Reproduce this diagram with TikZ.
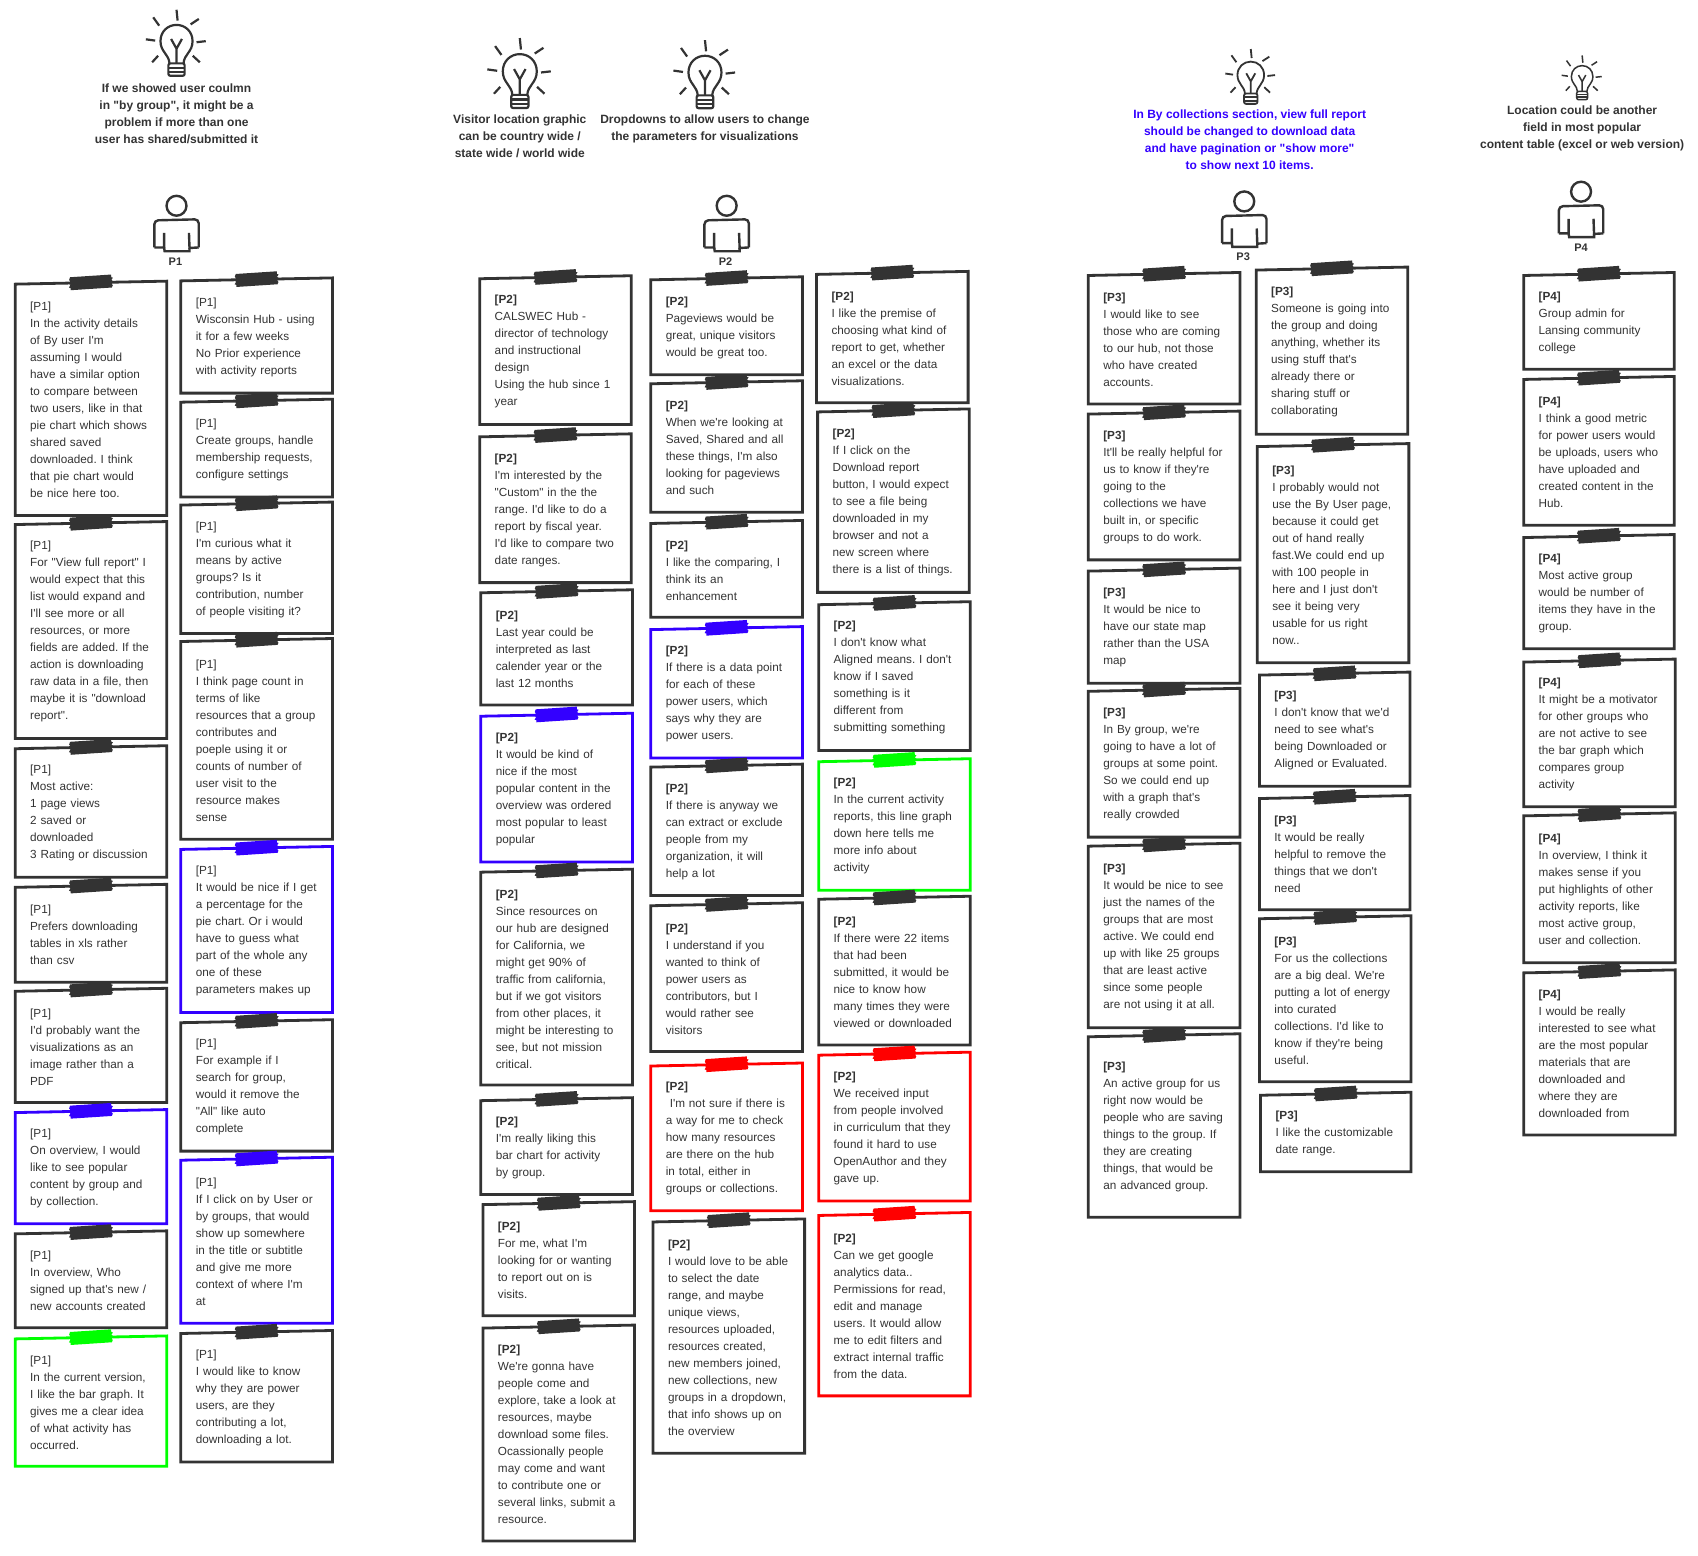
\documentclass[tikz,border=0pt]{standalone}
\usepackage{fontspec}
\usepackage{xcolor}
\usepackage{tikz}
\newfontfamily\notefont{Liberation Sans}
\definecolor{notedark}{HTML}{333333}
\definecolor{noteblue}{HTML}{3300FF}
\definecolor{notegreen}{HTML}{00FF00}
\definecolor{notered}{HTML}{FF0000}
\tikzset{
    notebox/.style={anchor=north west, align=left, inner xsep=14pt, inner ysep=0pt, outer sep=0pt, text=notedark,
        font=\notefont\frenchspacing\fontsize{11.75}{17}\selectfont},
    ideatext/.style={align=center, inner sep=0pt, text=notedark, font=\notefont\frenchspacing\bfseries\fontsize{12}{17}\selectfont},
    usertext/.style={inner sep=0pt, text=notedark, font=\notefont\bfseries\fontsize{11}{13}\selectfont},
    tape/.pic={
        \fill (-19,-6) -- (19,-6.5) -- (19,-4) -- (20.5,-3.5) -- (19,-1.5) -- (20.5,0) -- (19,2) -- (20,3.5) -- (19,5.5)
            -- (-19,6) -- (-19,4) -- (-20.5,3.5) -- (-19,1) -- (-20.5,0) -- (-19,-2) -- (-20,-3.5) -- cycle;
    },
    bulb/.pic={
        \draw[line cap=round] (-6.5,18.5) .. controls (-7,10) and (-14.8,8) .. (-14.8,-2) .. controls (-14.8,-11) and (-8,-17) .. (0,-17)
            .. controls (8,-17) and (14.8,-11) .. (14.8,-2) .. controls (14.8,8) and (7,10) .. (6.5,18.5);
        \draw (0,18.5) -- (0,5) -- (-5,-4) (0,5) -- (5,-4);
        \draw[rounded corners=2] (-7.5,18.5) rectangle (7.5,30);
        \draw (-7.5,22.5) -- (7.5,22.5) (-7.5,26.5) -- (7.5,26.5);
        \foreach \xa/\ya/\xb/\yb in {0/-31/1/-21, 20.6/-22.5/13/-17.5, 27/-2/18.5/-1, 21.5/17.5/15/11.5,
            -22.5/17.5/-17/11.5, -28.3/-3.7/-19.7/-2.5, -21.5/-24/-16/-16.3}
            \draw (\xa,\ya) -- (\xb,\yb);
    },
    person/.pic={
        \draw (0,0) circle (9.2);
        \draw[rounded corners=4] (-20.5,38.5) -- (-20.5,13.5) -- (20.5,12.5) -- (20.5,38.5);
        \draw (-11.5,25) -- (-11.5,38.5) -- (-20.5,38.5) (20.5,38.5) -- (12,39) -- (11.5,25);
        \draw (-11.5,38.5) -- (-11,42) -- (12,42) -- (12,39);
    }
}
% colour, name, left, top, right, bottom, text
\newcommand{\stickynote}[7][notedark]{%
    \pgfmathsetlengthmacro{\notew}{(#5-#3)*1.083pt}%
    \pgfmathsetlengthmacro{\noteh}{(#6-#4)*1.083pt}%
    \pgfmathsetlengthmacro{\notet}{\notew-28pt}%
    \node[notebox, minimum width=\notew, minimum height=\noteh, text width=\notet, xshift=1pt, yshift=-1pt] (#2) at (#3,#4) {#7};
    \draw[#1, line width=2.8pt] ([xshift=-1pt,yshift=-.5pt]#2.north west) -- ([xshift=-1pt,yshift=2.5pt]#2.north east)
        -- ([xshift=-1pt,yshift=1pt]#2.south east) -- ([xshift=-1pt,yshift=1pt]#2.south west) -- cycle;
    \path ([xshift=-1pt,yshift=1pt]#2.north) pic[rotate=3, color=#1] {tape};
}
\begin{document}
\begin{tikzpicture}[x=1.083pt, y=-1.083pt]
    \useasboundingbox (0,0) rectangle (1568,1436);

    % ideas
    \path (163,40) pic[notedark, line width=2.2pt] {bulb};
    \path (480,68) pic[notedark, line width=2.2pt, scale=1.06] {bulb};
    \path (651,69) pic[notedark, line width=2.2pt, scale=1.03] {bulb};
    \path (1155,71) pic[notedark, line width=1.8pt, scale=.83] {bulb};
    \path (1461,72) pic[notedark, line width=1.5pt, scale=.67] {bulb};
    \node[ideatext] (idea1) at (163,105) {If we showed user coulmn\\in "by group", it might be a\\problem if more than one\\user has shared/submitted it};
    \node[ideatext] (idea2) at (480,125.6) {Visitor location graphic\\can be country wide /\\state wide / world wide};
    \node[ideatext] (idea3) at (651,119) {Dropdowns to allow users to change\\the parameters for visualizations};
    \node[ideatext, text=noteblue] (idea4) at (1154,129) {In By collections section, view full report\\should be changed to download data\\and have pagination or "show more"\\to show next 10 items.};
    \node[ideatext] (idea5) at (1461,119) {Location could be another\\field in most popular\\content table (excel or web version)};

    % users
    \path (163,190) pic[notedark, line width=2.4pt] {person};
    \path (671,190) pic[notedark, line width=2.4pt] {person};
    \path (1149,186) pic[notedark, line width=2.4pt] {person};
    \path (1460,177) pic[notedark, line width=2.4pt] {person};
    \node[usertext] (user1) at (162,242) {P1};
    \node[usertext] (user2) at (670,242) {P2};
    \node[usertext] (user3) at (1148,237) {P3};
    \node[usertext] (user4) at (1460,229) {P4};

    % P1
    \stickynote{pa1}{14}{261}{154}{476}{[P1]\\In the activity details\\of By user I'm\\assuming I would\\have a similar option\\to compare between\\two users, like in that\\pie chart which shows\\shared saved\\downloaded. I think\\that pie chart would\\be nice here too.}
    \stickynote{pa2}{14}{483}{154}{682}{[P1]\\For "View full report" I\\would expect that this\\list would expand and\\I'll see more or all\\resources, or more\\fields are added. If the\\action is downloading\\raw data in a file, then\\maybe it is "download\\report".}
    \stickynote{pa3}{14}{690}{154}{810}{[P1]\\Most active:\\1 page views\\2 saved or\\downloaded\\3 Rating or discussion}
    \stickynote{pa4}{14}{818}{154}{907}{[P1]\\Prefers downloading\\tables in xls rather\\than csv}
    \stickynote{pa5}{14}{914}{154}{1018}{[P1]\\I'd probably want the\\visualizations as an\\image rather than a\\PDF}
    \stickynote[noteblue]{pa6}{14}{1026}{154}{1130}{[P1]\\On overview, I would\\like to see popular\\content by group and\\by collection.}
    \stickynote{pa7}{14}{1138}{154}{1226}{[P1]\\In overview, Who\\signed up that's new /\\new accounts created}
    \stickynote[notegreen]{pa8}{14}{1235}{154}{1354}{[P1]\\In the current version,\\I like the bar graph. It\\gives me a clear idea\\of what activity has\\occurred.}

    \stickynote{pb1}{167}{258}{307}{363}{[P1]\\Wisconsin Hub - using\\it for a few weeks\\No Prior experience\\with activity reports}
    \stickynote{pb2}{167}{370}{307}{459}{[P1]\\Create groups, handle\\membership requests,\\configure settings}
    \stickynote{pb3}{167}{465}{307}{585}{[P1]\\I'm curious what it\\means by active\\groups? Is it\\contribution, number\\of people visiting it?}
    \stickynote{pb4}{167}{591}{307}{775}{[P1]\\I think page count in\\terms of like\\resources that a group\\contributes and\\poeple using it or\\counts of number of\\user visit to the\\resource makes\\sense}
    \stickynote[noteblue]{pb5}{167}{783}{307}{935}{[P1]\\It would be nice if I get\\a percentage for the\\pie chart. Or i would\\have to guess what\\part of the whole any\\one of these\\parameters makes up}
    \stickynote{pb6}{167}{943}{307}{1063}{[P1]\\For example if I\\search for group,\\would it remove the\\"All" like auto\\complete}
    \stickynote[noteblue]{pb7}{167}{1070}{307}{1222}{[P1]\\If I click on by User or\\by groups, that would\\show up somewhere\\in the title or subtitle\\and give me more\\context of where I'm\\at}
    \stickynote{pb8}{167}{1230}{307}{1350}{[P1]\\I would like to know\\why they are power\\users, are they\\contributing a lot,\\downloading a lot.}

    % P2
    \stickynote{qa1}{443}{256}{583}{392}{\textbf{[P2]}\\CALSWEC Hub -\\director of technology\\and instructional\\design\\Using the hub since 1\\year}
    \stickynote{qa2}{443}{402}{583}{538}{\textbf{[P2]}\\I'm interested by the\\"Custom" in the the\\range. I'd like to do a\\report by fiscal year.\\I'd like to compare two\\date ranges.}
    \stickynote{qa3}{444}{546}{584}{651}{\textbf{[P2]}\\Last year could be\\interpreted as last\\calender year or the\\last 12 months}
    \stickynote[noteblue]{qa4}{444}{660}{584}{796}{\textbf{[P2]}\\It would be kind of\\nice if the most\\popular content in the\\overview was ordered\\most popular to least\\popular}
    \stickynote{qa5}{444}{804}{584}{1002}{\textbf{[P2]}\\Since resources on\\our hub are designed\\for California, we\\might get 90\% of\\traffic from california,\\but if we got visitors\\from other places, it\\might be interesting to\\see, but not mission\\critical.}
    \stickynote{qa6}{444}{1015}{584}{1103}{\textbf{[P2]}\\I'm really liking this\\bar chart for activity\\by group.}
    \stickynote{qa7}{446}{1111}{586}{1215}{\textbf{[P2]}\\For me, what I'm\\looking for or wanting\\to report out on is\\visits.}
    \stickynote{qa8}{446}{1225}{586}{1423}{\textbf{[P2]}\\We're gonna have\\people come and\\explore, take a look at\\resources, maybe\\download some files.\\Ocassionally people\\may come and want\\to contribute one or\\several links, submit a\\resource.}

    \stickynote{qb1}{601}{257}{741}{346}{\textbf{[P2]}\\Pageviews would be\\great, unique visitors\\would be great too.}
    \stickynote{qb2}{601}{353}{741}{473}{\textbf{[P2]}\\When we're looking at\\Saved, Shared and all\\these things, I'm also\\looking for pageviews\\and such}
    \stickynote{qb3}{601}{482}{741}{570}{\textbf{[P2]}\\I like the comparing, I\\think its an\\enhancement}
    \stickynote[noteblue]{qb4}{601}{580}{741}{700}{\textbf{[P2]}\\If there is a data point\\for each of these\\power users, which\\says why they are\\power users.}
    \stickynote{qb5}{601}{707}{741}{827}{\textbf{[P2]}\\If there is anyway we\\can extract or exclude\\people from my\\organization, it will\\help a lot}
    \stickynote{qb6}{601}{835}{741}{971}{\textbf{[P2]}\\I understand if you\\wanted to think of\\power users as\\contributors, but I\\would rather see\\visitors}
    \stickynote[notered]{qb7}{601}{983}{741}{1118}{\textbf{[P2]}\\\ I'm not sure if there is\\a way for me to check\\how many resources\\are there on the hub\\in total, either in\\groups or collections.}
    \stickynote{qb8}{603}{1127}{743}{1342}{\textbf{[P2]}\\I would love to be able\\to select the date\\range, and maybe\\unique views,\\resources uploaded,\\resources created,\\new members joined,\\new collections, new\\groups in a dropdown,\\that info shows up on\\the overview}

    \stickynote{qc1}{754}{252}{894}{372}{\textbf{[P2]}\\I like the premise of\\choosing what kind of\\report to get, whether\\an excel or the data\\visualizations.}
    \stickynote{qc2}{755}{379}{895}{547}{\textbf{[P2]}\\If I click on the\\Download report\\button, I would expect\\to see a file being\\downloaded in my\\browser and not a\\new screen where\\there is a list of things.}
    \stickynote{qc3}{756}{557}{896}{693}{\textbf{[P2]}\\I don't know what\\Aligned means. I don't\\know if I saved\\something is it\\different from\\submitting something}
    \stickynote[notegreen]{qc4}{756}{702}{896}{822}{\textbf{[P2]}\\In the current activity\\reports, this line graph\\down here tells me\\more info about\\activity}
    \stickynote{qc5}{756}{829}{896}{965}{\textbf{[P2]}\\If there were 22 items\\that had been\\submitted, it would be\\nice to know how\\many times they were\\viewed or downloaded}
    \stickynote[notered]{qc6}{756}{973}{896}{1109}{\textbf{[P2]}\\We received input\\from people involved\\in curriculum that they\\found it hard to use\\OpenAuthor and they\\gave up.}
    \stickynote[notered]{qc7}{756}{1121}{896}{1289}{\textbf{[P2]}\\Can we get google\\analytics data..\\Permissions for read,\\edit and manage\\users. It would allow\\me to edit filters and\\extract internal traffic\\from the data.}

    % P3
    \stickynote{ra1}{1005}{253}{1145}{373}{\textbf{[P3]}\\I would like to see\\those who are coming\\to our hub, not those\\who have created\\accounts.}
    \stickynote{ra2}{1005}{381}{1145}{517}{\textbf{[P3]}\\It'll be really helpful for\\us to know if they're\\going to the\\collections we have\\built in, or specific\\groups to do work.}
    \stickynote{ra3}{1005}{526}{1145}{631}{\textbf{[P3]}\\It would be nice to\\have our state map\\rather than the USA\\map}
    \stickynote{ra4}{1005}{637}{1145}{773}{\textbf{[P3]}\\In By group, we're\\going to have a lot of\\groups at some point.\\So we could end up\\with a graph that's\\really crowded}
    \stickynote{ra5}{1005}{780}{1145}{949}{\textbf{[P3]}\\It would be nice to see\\just the names of the\\groups that are most\\active. We could end\\up with like 25 groups\\that are least active\\since some people\\are not using it at all.}
    \stickynote{ra6}{1005}{956}{1145}{1124}{\textbf{[P3]}\\An active group for us\\right now would be\\people who are saving\\things to the group. If\\they are creating\\things, that would be\\an advanced group.}

    \stickynote{rb1}{1160}{248}{1300}{401}{\textbf{[P3]}\\Someone is going into\\the group and doing\\anything, whether its\\using stuff that's\\already there or\\sharing stuff or\\collaborating}
    \stickynote{rb2}{1161}{411}{1301}{612}{\textbf{[P3]}\\I probably would not\\use the By User page,\\because it could get\\out of hand really\\fast.We could end up\\with 100 people in\\here and I just don't\\see it being very\\usable for us right\\now..}
    \stickynote{rb3}{1163}{622}{1302}{726}{\textbf{[P3]}\\I don't know that we'd\\need to see what's\\being Downloaded or\\Aligned or Evaluated.}
    \stickynote{rb4}{1163}{736}{1302}{840}{\textbf{[P3]}\\It would be really\\helpful to remove the\\things that we don't\\need}
    \stickynote{rb5}{1163}{847}{1303}{999}{\textbf{[P3]}\\For us the collections\\are a big deal. We're\\putting a lot of energy\\into curated\\collections. I'd like to\\know if they're being\\useful.}
    \stickynote{rb6}{1164}{1010}{1303}{1082}{\textbf{[P3]}\\I like the customizable\\date range.}

    % P4
    \stickynote{sa1}{1407}{253}{1546}{341}{\textbf{[P4]}\\Group admin for\\Lansing community\\college}
    \stickynote{sa2}{1407}{349}{1546}{485}{\textbf{[P4]}\\I think a good metric\\for power users would\\be uploads, users who\\have uploaded and\\created content in the\\Hub.}
    \stickynote{sa3}{1407}{495}{1546}{599}{\textbf{[P4]}\\Most active group\\would be number of\\items they have in the\\group.}
    \stickynote{sa4}{1407}{610}{1547}{745}{\textbf{[P4]}\\It might be a motivator\\for other groups who\\are not active to see\\the bar graph which\\compares group\\activity}
    \stickynote{sa5}{1407}{752}{1547}{889}{\textbf{[P4]}\\In overview, I think it\\makes sense if you\\put highlights of other\\activity reports, like\\most active group,\\user and collection.}
    \stickynote{sa6}{1407}{897}{1547}{1048}{\textbf{[P4]}\\I would be really\\interested to see what\\are the most popular\\materials that are\\downloaded and\\where they are\\downloaded from}
\end{tikzpicture}
\end{document}
